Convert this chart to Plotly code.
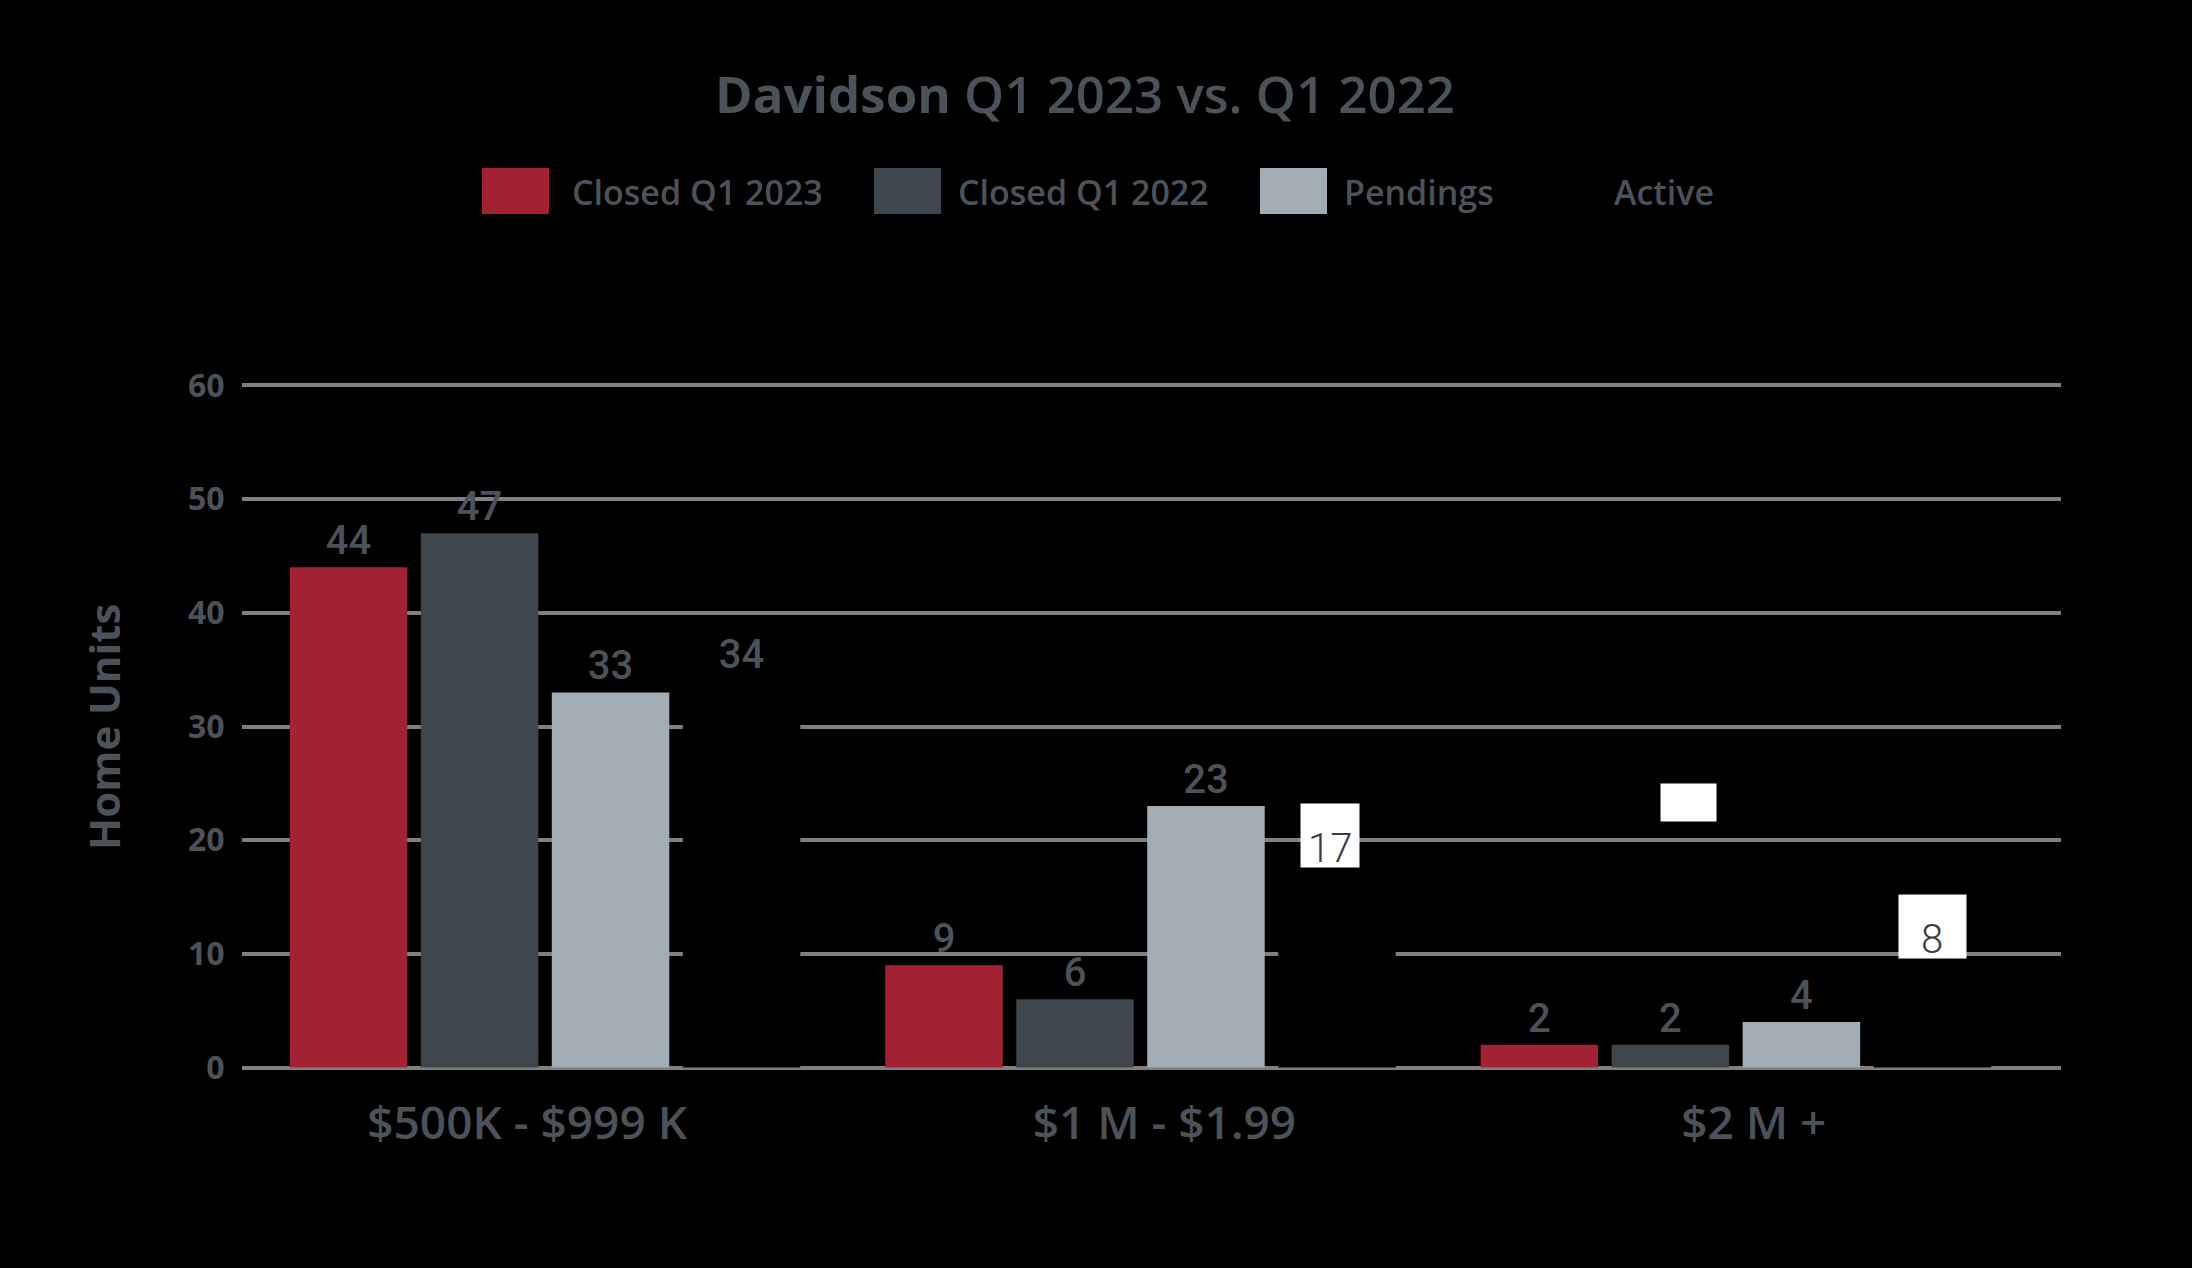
import plotly.graph_objects as go

# ---------------- data ----------------
categories = ["$500K - $999 K", "$1 M - $1.99", "$2 M +"]
series_names = ["Closed Q1 2023", "Closed Q1 2022", "Pendings", "Active"]
closed_q1_2023 = [44, 9, 2]
closed_q1_2022 = [47, 6, 2]
pendings = [33, 23, 4]
active = [34, 17, 8]
active_boxed = [False, True, True]
y_ticks = [0, 10, 20, 30, 40, 50, 60]

# ---------------- style ----------------
W, H = 2192, 1268
Y_PAD = 0.3                      # range padding so 0 and 60 grid lines show
PX_PER_UNIT = 683 / 60
L, R = 242, 131
T = round(385 - Y_PAD * PX_PER_UNIT)
B = round(200 - Y_PAD * PX_PER_UNIT)
PW, PH = W - L - R, H - T - B
BARGAP, BARGROUPGAP = 0.12, 0.103
X_RANGE = [-0.509, 2.546]
BG = "#000000"
TXT = "#4c525a"
GRID = "#808080"
colors = ["#a22234", "#3e454c", "#a2acb4", "#000000"]
FONT_MAIN = "Open Sans, Lato, Noto Sans, sans-serif"
FONT_NUM = "Roboto, Noto Sans, sans-serif"
NBSP = "\u00a0"
xlabel_pad = [-3, 4, 3]          # label nudges (negative = trailing pad)


def px_x(px):
    return (px - L) / PW


def px_y(py):
    return (H - B - py) / PH


def pad_label(s, n):
    return s + NBSP * (-n) if n < 0 else NBSP * n + s


series = [closed_q1_2023, closed_q1_2022, pendings, active]

fig = go.Figure()
for name, vals, col in zip(series_names, series, colors):
    if name == "Active":
        txt = ["" if bx else str(v) for v, bx in zip(vals, active_boxed)]
    else:
        txt = [str(v) for v in vals]
    fig.add_trace(go.Bar(
        name=name, x=categories, y=vals, marker=dict(color=col, line=dict(width=0)),
        text=txt, textposition="outside", constraintext="none", cliponaxis=False,
        textfont=dict(family=FONT_NUM, size=40, color=TXT, weight=500),
        showlegend=False, hoverinfo="x+y+name",
    ))

annotations = []
shapes = []

# boxed labels for Active
slot = (1 - BARGAP) / 4
box_yshift = [0, 6, 18]
box_xshift = [0, -7, 0]
box_width = [60, 58, 67]
for i, (v, bx) in enumerate(zip(active, active_boxed)):
    if bx:
        annotations.append(dict(
            x=i + 1.5 * slot, y=v, xref="x", yref="y", text=" ",
            showarrow=False, yanchor="bottom", xanchor="center",
            yshift=box_yshift[i], xshift=box_xshift[i],
            width=box_width[i], height=63, bgcolor="#ffffff", borderpad=0,
            font=dict(size=10, color="#ffffff"),
        ))
        annotations.append(dict(
            x=i + 1.5 * slot, y=v, xref="x", yref="y", text=str(v),
            showarrow=False, yanchor="bottom", xanchor="center",
            yshift=box_yshift[i] - 5, xshift=box_xshift[i], borderpad=0,
            font=dict(family=FONT_NUM, size=40, color="#3a3d42", weight=300),
        ))

# stray empty white label box
annotations.append(dict(
    x=px_x(1688), y=px_y(802.5), xref="paper", yref="paper", text=" ",
    showarrow=False, xanchor="center", yanchor="middle", width=55, height=37,
    bgcolor="#ffffff", borderpad=0, font=dict(size=10, color="#ffffff"),
))

# custom legend
legend_sw = [482, 874, 1260, 1522]
legend_tx = [570, 956, 1342, 1612]
for name, col, sx, tx in zip(series_names, colors, legend_sw, legend_tx):
    shapes.append(dict(type="rect", xref="paper", yref="paper",
                       x0=px_x(sx), x1=px_x(sx + 67), y0=px_y(214), y1=px_y(168),
                       fillcolor=col, line=dict(width=0), layer="above"))
    annotations.append(dict(x=px_x(tx), y=px_y(191.5), xref="paper", yref="paper",
                            text=name, showarrow=False, xanchor="left", yanchor="middle",
                            font=dict(family=FONT_MAIN, size=34, color=TXT, weight=600)))

# y-axis title
annotations.append(dict(x=px_x(103), y=px_y(727), xref="paper", yref="paper",
                        text="<b>Home Units</b>", textangle=-90, showarrow=False,
                        xanchor="center", yanchor="middle",
                        font=dict(family=FONT_MAIN, size=42, color=TXT)))

fig.update_layout(
    width=W, height=H,
    margin=dict(l=L, r=R, t=T, b=B, autoexpand=False),
    paper_bgcolor=BG, plot_bgcolor=BG,
    barmode="group", bargap=BARGAP, bargroupgap=BARGROUPGAP,
    title=dict(text="<b>Davidson</b> Q1 2023 vs. Q1 2022", x=1085 / W, xanchor="center",
               y=1 - 95 / H, yanchor="middle",
               font=dict(family=FONT_MAIN, size=51, color=TXT, weight=600)),
    xaxis=dict(type="category", range=X_RANGE, showgrid=False, showline=False,
               zeroline=False, ticks="outside", ticklen=12, tickcolor="rgba(0,0,0,0)",
               tickvals=categories,
               ticktext=[pad_label(c, n) for c, n in zip(categories, xlabel_pad)],
               tickfont=dict(family=FONT_MAIN, size=46, color=TXT, weight=600)),
    yaxis=dict(range=[-Y_PAD, 60 + Y_PAD], tickvals=y_ticks, showgrid=True, gridcolor=GRID,
               gridwidth=3.5, zeroline=False, showline=False, ticks="outside",
               ticklen=10, tickcolor="rgba(0,0,0,0)",
               tickfont=dict(family=FONT_MAIN, size=32, color=TXT, weight=700)),
    annotations=annotations, shapes=shapes, showlegend=False,
)

fig.write_html(
    "out.html",
    config={"displayModeBar": False},
    post_script="document.body.style.margin='0';document.body.style.background='#000';",
)
